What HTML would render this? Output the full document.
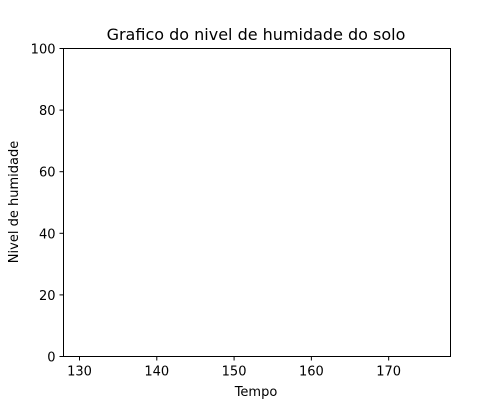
<!DOCTYPE html>
<html><head><meta charset="utf-8"><style>
body{margin:0;background:#fff}
svg{display:block;font-family:"DejaVu Sans","Liberation Sans",sans-serif}
</style></head><body>
<svg id="chart" width="500" height="400">
<rect width="500" height="400" fill="#fff"/>
<text x="256" y="40" font-size="16" text-anchor="middle">Grafico do nivel de humidade do solo</text>
<g id="xt"></g>
<g id="yt"></g>
<g id="marks"></g>
<rect x="63.5" y="48.5" width="387" height="308" fill="none" stroke="#000" stroke-width="1"/>
<text x="256" y="396" font-size="13" text-anchor="middle">Tempo</text>
<text transform="translate(18,202) rotate(-90)" font-size="13" text-anchor="middle">Nivel de humidade</text>
</svg>
<script>
const xTicks=[130,140,150,160,170];
const yTicks=[0,20,40,60,80,100];
const times=[];
const humidity=[];
const X0=63.5,X1=450.5,Y0=356.5,Y1=48.5,XMIN=127.93,XMAX=178,YMIN=0,YMAX=100;
const sx=v=>X0+(v-XMIN)/(XMAX-XMIN)*(X1-X0);
const sy=v=>Y0-(v-YMIN)/(YMAX-YMIN)*(Y0-Y1);
const NS="http://www.w3.org/2000/svg";
const xt=document.getElementById('xt'),yt=document.getElementById('yt');
xTicks.forEach(t=>{
 const l=document.createElementNS(NS,'line');
 l.setAttribute('x1',sx(t));l.setAttribute('x2',sx(t));l.setAttribute('y1',Y0);l.setAttribute('y2',Y0+4);l.setAttribute('stroke','#000');
 
 
 xt.appendChild(l);
 const s=document.createElementNS(NS,'text');
 s.setAttribute('x',sx(t));s.setAttribute('y',Y0+19);s.setAttribute('font-size','13');s.setAttribute('text-anchor','middle');s.textContent=t;
 
 
 xt.appendChild(s);
});
yTicks.forEach(t=>{
 const l=document.createElementNS(NS,'line');
 l.setAttribute('x1',X0-4);l.setAttribute('x2',X0);l.setAttribute('y1',sy(t));l.setAttribute('y2',sy(t));l.setAttribute('stroke','#000');
 
 
 yt.appendChild(l);
 const s=document.createElementNS(NS,'text');
 s.setAttribute('x',X0-8);s.setAttribute('y',sy(t)+5);s.setAttribute('font-size','13');s.setAttribute('text-anchor','end');s.textContent=t;
 
 
 yt.appendChild(s);
});
if(times.length){
 const p=document.createElementNS(NS,'polyline');
 p.setAttribute('points',times.map((t,i)=>sx(t)+','+sy(humidity[i])).join(' '));
 p.setAttribute('fill','none');p.setAttribute('stroke','#1f77b4');p.setAttribute('stroke-width','1.5');
 
 
 document.getElementById('marks').appendChild(p);
}
</script>
</body></html>
